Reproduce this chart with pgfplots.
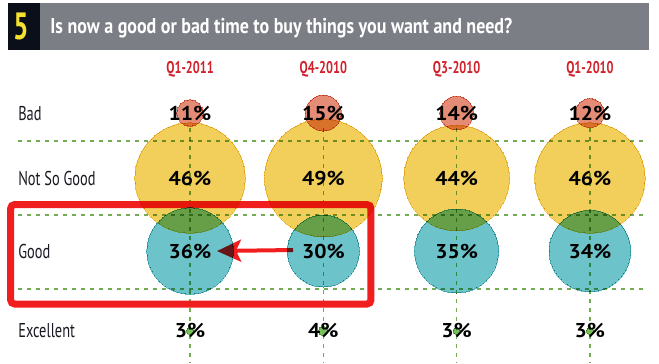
\documentclass[border=0pt]{standalone}
\usepackage{fontspec}
\setmainfont{PT Sans}
\newfontfamily\cond[FakeStretch=0.72]{PT Sans}
\newfontfamily\condt[FakeStretch=0.84]{PT Sans}
\newfontfamily\pctf[FakeStretch=1.08]{PT Sans}
\usepackage{pgfplots}
\pgfplotsset{compat=1.18}
\usepackage{pgfplotstable}
\usetikzlibrary{arrows.meta}

\definecolor{cyellow}{RGB}{242,207,91}
\definecolor{cteal}{RGB}{109,195,202}
\definecolor{cred}{RGB}{228,140,118}
\definecolor{cgreen}{RGB}{120,190,90}
\definecolor{gridg}{RGB}{115,172,85}
\definecolor{bargray}{RGB}{124,126,134}
\definecolor{boxblack}{RGB}{10,15,25}
\definecolor{five}{RGB}{245,225,45}
\definecolor{hdrred}{RGB}{208,32,42}
\definecolor{boxred}{RGB}{240,30,30}
\definecolor{lbl}{RGB}{25,25,35}

\pgfplotstableread{
col y pct
0 250 11
1 250 15
2 250 14
3 250 12
}\bad
\pgfplotstableread{
col y pct
0 185 46
1 185 49
2 185 44
3 185 46
}\nsg
\pgfplotstableread{
col y pct
0 112 36
1 112 30
2 112 35
3 112 34
}\good
\pgfplotstableread{
col y pct
0 32 3
1 32 4
2 32 3
3 32 3
}\exc

\pgfplotsset{
  bubble/.style={scatter, only marks, mark=*, point meta=explicit,
    visualization depends on={1.2045*\thisrow{pct} \as \myrad},
    scatter/@pre marker code/.code={\scope[mark size=\myrad, fill=#1, draw=#1, line width=0pt, blend mode=multiply]},
    scatter/@post marker code/.code={\endscope}},
  pctlabel/.style={only marks, mark=none, point meta=explicit,
    nodes near coords={\pgfmathprintnumber{\pgfplotspointmeta}\%},
    every node near coord/.append style={anchor=center, text=black, inner sep=0pt,
      font=\pctf\bfseries\fontsize{20bp}{22bp}\selectfont}},
}
\tikzset{gline/.style={gridg, line width=1.3bp, dash pattern=on 4bp off 5bp, blend mode=multiply}}

\begin{document}
\begin{tikzpicture}
\begin{axis}[
  scale only axis, width=659bp, height=363bp,
  xmin=-1.425, xmax=3.5175, ymin=0, ymax=363,
  clip=false,
  axis line style={draw=none}, major tick length=0pt,
  /pgf/number format/assume math mode=true,
  xtick={0,1,2,3}, xticklabels={Q1-2011,Q4-2010,Q3-2010,Q1-2010},
  xticklabel pos=upper,
  xticklabel style={anchor=center, yshift=-69bp, inner sep=0pt, text=hdrred,
    font=\cond\bfseries\fontsize{17bp}{19bp}\selectfont},
  ytick={32,112,185,250}, yticklabels={Excellent,Good,Not So Good,Bad},
  yticklabel style={anchor=west, xshift=18bp, inner sep=0pt, text=lbl,
    font=\cond\fontsize{20bp}{22bp}\selectfont},
]
% bounding box
\path (rel axis cs:0,0) rectangle (rel axis cs:1,1);
% title bar
\fill[boxblack] (axis cs:-1.365,360) rectangle (axis cs:-1.125,313);
\fill[bargray] (axis cs:-1.125,360) rectangle (axis cs:3.4425,313);
\node[text=five, inner sep=0pt] at (axis cs:-1.264,336.5)
  {\cond\bfseries\fontsize{38bp}{40bp}\selectfont 5};
\node[anchor=base west, text=white, inner sep=0pt] at (axis cs:-1.05,330)
  {\condt\bfseries\fontsize{21.4bp}{24bp}\selectfont Is now a good or bad time to buy things you want and need?};
% bubbles
\addplot[bubble=cyellow] table[x=col, y=y, meta=pct] {\nsg};
\addplot[bubble=cred] table[x=col, y=y, meta=pct] {\bad};
\addplot[bubble=cteal] table[x=col, y=y, meta=pct] {\good};
\addplot[bubble=cgreen] table[x=col, y=y, meta=pct] {\exc};
% dashed guide lines
\draw[gline] (axis cs:-1.29,222) -- (axis cs:3.4275,222);
\draw[gline] (axis cs:-1.29,148) -- (axis cs:3.4275,148);
\draw[gline] (axis cs:-1.29,74) -- (axis cs:3.4275,74);
\draw[gline] (axis cs:0,235) -- (axis cs:0,0);
\draw[gline] (axis cs:1,235) -- (axis cs:1,0);
\draw[gline] (axis cs:2,235) -- (axis cs:2,0);
\draw[gline] (axis cs:3,235) -- (axis cs:3,0);
% value labels
\addplot[pctlabel] table[x=col, y=y, meta=pct] {\nsg};
\addplot[pctlabel] table[x=col, y=y, meta=pct] {\bad};
\addplot[pctlabel] table[x=col, y=y, meta=pct] {\good};
\addplot[pctlabel] table[x=col, y=y, meta=pct] {\exc};
% highlight box and arrow
\draw[boxred, blend mode=normal, line width=7bp, rounded corners=4bp]
  (axis cs:-1.346,158.5) rectangle (axis cs:1.3575,59);
\draw[boxred, blend mode=normal, line width=4bp,
  -{Stealth[length=24bp, width=22bp, inset=5bp, fill=boxred]}]
  (axis cs:0.7725,113) -- (axis cs:0.2025,112);
\end{axis}
\end{tikzpicture}
\end{document}
